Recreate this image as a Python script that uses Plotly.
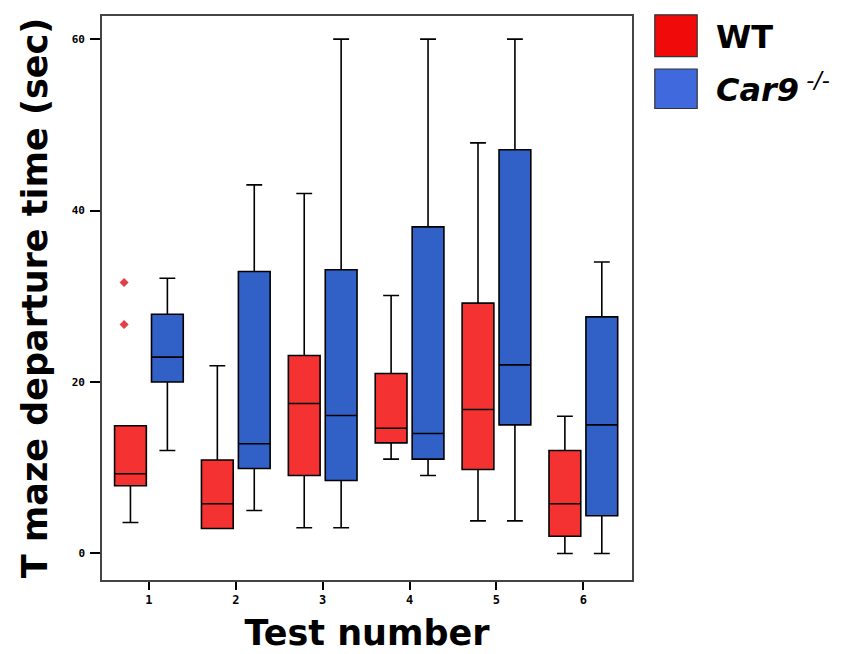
import plotly.graph_objects as go

tests = ["1", "2", "3", "4", "5", "6"]

wt_q1 = [7.9, 2.9, 9.1, 12.9, 9.8, 2.0]
wt_median = [9.3, 5.8, 17.5, 14.6, 16.8, 5.8]
wt_q3 = [14.9, 10.9, 23.1, 21.0, 29.2, 12.0]
wt_low = [3.6, 2.9, 3.0, 11.0, 3.8, 0.0]
wt_high = [14.9, 21.9, 42.0, 30.1, 47.9, 16.0]
wt_outliers = [[31.6, 26.7], [], [], [], [], []]

ko_q1 = [20.0, 9.9, 8.5, 11.0, 15.0, 4.4]
ko_median = [22.9, 12.8, 16.1, 14.0, 22.0, 15.0]
ko_q3 = [27.9, 32.9, 33.1, 38.1, 47.1, 27.6]
ko_low = [12.0, 5.0, 3.0, 9.1, 3.8, 0.0]
ko_high = [32.1, 43.0, 60.0, 60.0, 60.0, 34.0]

y_ticks = [0, 20, 40, 60]

RED = "#F43232"
BLUE = "#3160C6"
TITLE_FONT = "DejaVu Sans, Verdana, sans-serif"

fig = go.Figure()
fig.add_trace(go.Box(
    name="WT", x=tests, y=wt_outliers,
    q1=wt_q1, median=wt_median, q3=wt_q3,
    lowerfence=wt_low, upperfence=wt_high,
    fillcolor=RED, line=dict(color="black", width=1.6),
    whiskerwidth=0.5, boxpoints="outliers", pointpos=-0.4,
    marker=dict(color="#E0404A", size=7, symbol="diamond"),
    showlegend=False,
))
fig.add_trace(go.Box(
    name="Car9 -/-", x=tests,
    q1=ko_q1, median=ko_median, q3=ko_q3,
    lowerfence=ko_low, upperfence=ko_high,
    fillcolor=BLUE, line=dict(color="black", width=1.6),
    whiskerwidth=0.5, boxpoints=False,
    showlegend=False,
))

# page body has an 8px margin, so the figure is sized to fit the window
fig.update_layout(
    width=838, height=646,
    margin=dict(l=94, r=214, t=6, b=74),
    paper_bgcolor="white", plot_bgcolor="white",
    boxmode="group", boxgap=0.15, boxgroupgap=0.14,
    font=dict(family="Liberation Sans, Arial, sans-serif", color="black"),
)
fig.update_xaxes(
    type="category", range=[-0.54, 5.56],
    showline=True, linecolor="#444", linewidth=1.6, mirror=True,
    ticks="outside", ticklen=8, tickwidth=2, tickcolor="black",
    tickfont=dict(size=12, family="DejaVu Sans Mono", weight="bold"),
    showgrid=False, zeroline=False,
    title=dict(text="<b>Test number</b>", font=dict(size=35, family=TITLE_FONT), standoff=14),
)
fig.update_yaxes(
    range=[-3.1, 62.7], tickvals=y_ticks,
    showline=True, linecolor="#444", linewidth=1.6, mirror=True,
    ticks="outside", ticklen=10, tickwidth=2, tickcolor="black",
    ticklabelstandoff=3,
    tickfont=dict(size=11, family="DejaVu Sans Mono", weight="bold"),
    showgrid=False, zeroline=False,
    title=dict(text="<b>T maze departure time (sec)</b>", font=dict(size=35, family=TITLE_FONT), standoff=14),
)

# custom legend
fig.add_shape(type="rect", xref="paper", yref="paper", x0=1.043, x1=1.123, y0=0.928, y1=1.002,
              fillcolor="#F00A0A", line=dict(color="#333", width=1.2))
fig.add_shape(type="rect", xref="paper", yref="paper", x0=1.043, x1=1.123, y0=0.836, y1=0.906,
              fillcolor="#4169DE", line=dict(color="#333", width=1.2))
fig.add_annotation(xref="paper", yref="paper", x=1.155, y=0.962, xanchor="left", yanchor="middle",
                   text="<b>WT</b>", showarrow=False, font=dict(size=32, family=TITLE_FONT))
fig.add_annotation(xref="paper", yref="paper", x=1.155, y=0.872, xanchor="left", yanchor="middle",
                   text="<b><i>Car9</i></b><sup><i> -/-</i></sup>", showarrow=False,
                   font=dict(size=32, family=TITLE_FONT))

fig.write_html("out.html")
